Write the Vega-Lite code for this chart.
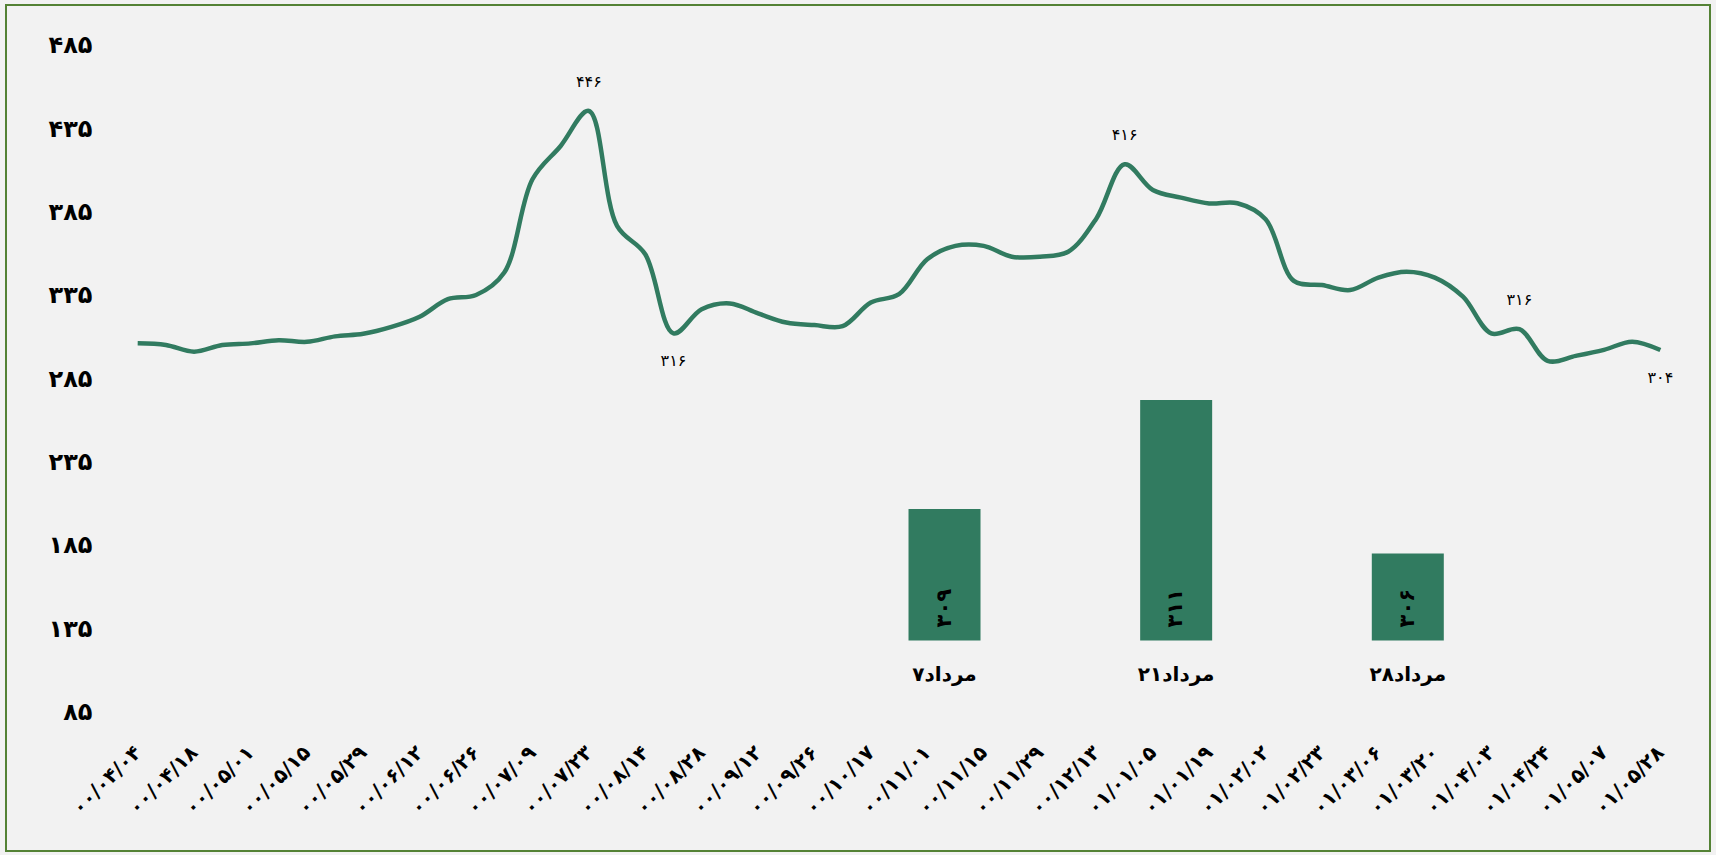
{
 "$schema": "https://vega.github.io/schema/vega-lite/v6.json",
 "width": 1704,
 "height": 846,
 "autosize": {"type": "none"},
 "padding": {"left": 6, "top": 5, "right": 6, "bottom": 4},
 "background": "#f2f2f2",
 "config": {
  "view": {"stroke": "#548235", "strokeWidth": 2, "fill": "#f2f2f2"},
  "font": "DejaVu Sans"
 },
 "datasets": {
  "line": [
   {"i": 0, "date": "۰۰/۰۴/۰۴", "value": 306.5},
   {"i": 1, "date": "۰۰/۰۴/۱۱", "value": 305.5},
   {"i": 2, "date": "۰۰/۰۴/۱۸", "value": 301.5},
   {"i": 3, "date": "۰۰/۰۴/۲۵", "value": 305.5},
   {"i": 4, "date": "۰۰/۰۵/۰۱", "value": 306.5},
   {"i": 5, "date": "۰۰/۰۵/۰۸", "value": 308.4},
   {"i": 6, "date": "۰۰/۰۵/۱۵", "value": 307.4},
   {"i": 7, "date": "۰۰/۰۵/۲۲", "value": 310.7},
   {"i": 8, "date": "۰۰/۰۵/۲۹", "value": 312.3},
   {"i": 9, "date": "۰۰/۰۶/۰۵", "value": 316.4},
   {"i": 10, "date": "۰۰/۰۶/۱۲", "value": 322.5},
   {"i": 11, "date": "۰۰/۰۶/۱۹", "value": 333},
   {"i": 12, "date": "۰۰/۰۶/۲۶", "value": 335.5},
   {"i": 13, "date": "۰۰/۰۷/۰۲", "value": 349},
   {"i": 14, "date": "۰۰/۰۷/۰۹", "value": 405},
   {"i": 15, "date": "۰۰/۰۷/۱۶", "value": 425},
   {"i": 16, "date": "۰۰/۰۷/۲۳", "value": 446, "label": "۴۴۶", "kind": "high"},
   {"i": 17, "date": "۰۰/۰۸/۰۷", "value": 377},
   {"i": 18, "date": "۰۰/۰۸/۱۴", "value": 360},
   {"i": 19, "date": "۰۰/۰۸/۲۱", "value": 312.5, "label": "۳۱۶", "kind": "low"},
   {"i": 20, "date": "۰۰/۰۸/۲۸", "value": 327},
   {"i": 21, "date": "۰۰/۰۹/۰۵", "value": 330.5},
   {"i": 22, "date": "۰۰/۰۹/۱۲", "value": 324.5},
   {"i": 23, "date": "۰۰/۰۹/۱۹", "value": 319},
   {"i": 24, "date": "۰۰/۰۹/۲۶", "value": 317.5},
   {"i": 25, "date": "۰۰/۱۰/۱۰", "value": 316.8},
   {"i": 26, "date": "۰۰/۱۰/۱۷", "value": 331},
   {"i": 27, "date": "۰۰/۱۰/۲۴", "value": 336},
   {"i": 28, "date": "۰۰/۱۱/۰۱", "value": 357},
   {"i": 29, "date": "۰۰/۱۱/۰۸", "value": 365},
   {"i": 30, "date": "۰۰/۱۱/۱۵", "value": 365},
   {"i": 31, "date": "۰۰/۱۱/۲۲", "value": 358.5},
   {"i": 32, "date": "۰۰/۱۱/۲۹", "value": 358.5},
   {"i": 33, "date": "۰۰/۱۲/۰۶", "value": 361.5},
   {"i": 34, "date": "۰۰/۱۲/۱۳", "value": 381.5},
   {"i": 35, "date": "۰۰/۱۲/۲۷", "value": 414, "label": "۴۱۶", "kind": "high"},
   {"i": 36, "date": "۰۱/۰۱/۰۵", "value": 398.6},
   {"i": 37, "date": "۰۱/۰۱/۱۲", "value": 394},
   {"i": 38, "date": "۰۱/۰۱/۱۹", "value": 390.5},
   {"i": 39, "date": "۰۱/۰۱/۲۶", "value": 390.6},
   {"i": 40, "date": "۰۱/۰۲/۰۲", "value": 381},
   {"i": 41, "date": "۰۱/۰۲/۱۶", "value": 344},
   {"i": 42, "date": "۰۱/۰۲/۲۳", "value": 341.5},
   {"i": 43, "date": "۰۱/۰۲/۳۰", "value": 338.5},
   {"i": 44, "date": "۰۱/۰۳/۰۶", "value": 346},
   {"i": 45, "date": "۰۱/۰۳/۱۳", "value": 349.5},
   {"i": 46, "date": "۰۱/۰۳/۲۰", "value": 346},
   {"i": 47, "date": "۰۱/۰۳/۲۷", "value": 334.5},
   {"i": 48, "date": "۰۱/۰۴/۰۳", "value": 312.5},
   {"i": 49, "date": "۰۱/۰۴/۱۷", "value": 315, "label": "۳۱۶", "kind": "high"},
   {"i": 50, "date": "۰۱/۰۴/۲۴", "value": 296},
   {"i": 51, "date": "۰۱/۰۴/۳۱", "value": 299},
   {"i": 52, "date": "۰۱/۰۵/۰۷", "value": 302.6},
   {"i": 53, "date": "۰۱/۰۵/۲۱", "value": 307.5},
   {"i": 54, "date": "۰۱/۰۵/۲۸", "value": 302.5, "label": "۳۰۴", "kind": "low"}
  ],
  "bars": [
   {"pos": 1, "day": "۷مرداد", "top": 207.1, "value": "۳۰۹"},
   {"pos": 2, "day": "۲۱مرداد", "top": 272.5, "value": "۳۱۱"},
   {"pos": 3, "day": "۲۸مرداد", "top": 180.4, "value": "۳۰۶"}
  ]
 },
 "layer": [
  {
   "data": {"name": "line"},
   "encoding": {
    "x": {
     "field": "i", "type": "quantitative",
     "scale": {"domain": [-4.67, 55.76], "nice": false, "zero": false},
     "axis": {
      "title": null, "orient": "bottom", "offset": -104, "domain": false, "ticks": false, "tickSize": 0,
      "grid": false, "labelPadding": 2, "labelAngle": -45, "labelAlign": "right", "labelBaseline": "middle",
      "labelFont": "DejaVu Sans", "labelFontSize": 20, "labelFontWeight": "bold", "labelColor": "#000000",
      "labelOverlap": false, "labelFlush": false,
      "values": [0, 2, 4, 6, 8, 10, 12, 14, 16, 18, 20, 22, 24, 26, 28, 30, 32, 34, 36, 38, 40, 42, 44, 46, 48, 50, 52, 54],
      "labelExpr": "['۰۰/۰۴/۰۴','۰۰/۰۴/۱۸','۰۰/۰۵/۰۱','۰۰/۰۵/۱۵','۰۰/۰۵/۲۹','۰۰/۰۶/۱۲','۰۰/۰۶/۲۶','۰۰/۰۷/۰۹','۰۰/۰۷/۲۳','۰۰/۰۸/۱۴','۰۰/۰۸/۲۸','۰۰/۰۹/۱۲','۰۰/۰۹/۲۶','۰۰/۱۰/۱۷','۰۰/۱۱/۰۱','۰۰/۱۱/۱۵','۰۰/۱۱/۲۹','۰۰/۱۲/۱۳','۰۱/۰۱/۰۵','۰۱/۰۱/۱۹','۰۱/۰۲/۰۲','۰۱/۰۲/۲۳','۰۱/۰۳/۰۶','۰۱/۰۳/۲۰','۰۱/۰۴/۰۳','۰۱/۰۴/۲۴','۰۱/۰۵/۰۷','۰۱/۰۵/۲۸'][datum.value/2]"
     }
    },
    "y": {
     "field": "value", "type": "quantitative",
     "scale": {"domain": [1.8, 509.6], "nice": false, "zero": false},
     "axis": {
      "title": null, "orient": "left", "offset": -86, "domain": false, "ticks": false, "tickSize": 0,
      "grid": false, "labelPadding": 0, "values": [85, 135, 185, 235, 285, 335, 385, 435, 485],
      "labelExpr": "['۸۵','۱۳۵','۱۸۵','۲۳۵','۲۸۵','۳۳۵','۳۸۵','۴۳۵','۴۸۵'][(datum.value-85)/50]",
      "labelFont": "DejaVu Sans", "labelFontSize": 24, "labelFontWeight": "bold", "labelColor": "#000000"
     }
    }
   },
   "layer": [
    {"mark": {"type": "line", "interpolate": "catmull-rom", "color": "#317b60", "strokeWidth": 4.5}},
    {
     "transform": [{"filter": "datum.kind == 'high'"}],
     "mark": {"type": "text", "dy": -29, "fontSize": 16, "color": "#000000", "font": "DejaVu Sans"},
     "encoding": {"text": {"field": "label"}}
    },
    {
     "transform": [{"filter": "datum.kind == 'low'"}],
     "mark": {"type": "text", "dy": 28, "fontSize": 16, "color": "#000000", "font": "DejaVu Sans"},
     "encoding": {"text": {"field": "label"}}
    }
   ]
  },
  {
   "data": {"name": "bars"},
   "encoding": {
    "x": {
     "field": "pos", "type": "quantitative",
     "scale": {"domain": [-3.03, 4.283], "nice": false, "zero": false},
     "axis": null
    }
   },
   "layer": [
    {
     "mark": {"type": "bar", "color": "#317b60", "width": 72},
     "encoding": {
      "y": {"field": "top", "type": "quantitative", "axis": null},
      "y2": {"datum": 128.2}
     }
    },
    {
     "mark": {"type": "text", "angle": 270, "align": "left", "baseline": "middle", "dx": 13, "fontSize": 21, "fontWeight": "bold", "color": "#000000", "font": "DejaVu Sans"},
     "encoding": {"y": {"datum": 128.2, "axis": null}, "text": {"field": "value"}}
    },
    {
     "mark": {"type": "text", "align": "center", "baseline": "middle", "dy": 34.5, "fontSize": 20, "fontWeight": "bold", "color": "#000000", "font": "DejaVu Sans"},
     "encoding": {"y": {"datum": 128.2, "axis": null}, "text": {"field": "day"}}
    }
   ]
  }
 ],
 "resolve": {"scale": {"x": "independent"}, "axis": {"y": "independent"}}
}
